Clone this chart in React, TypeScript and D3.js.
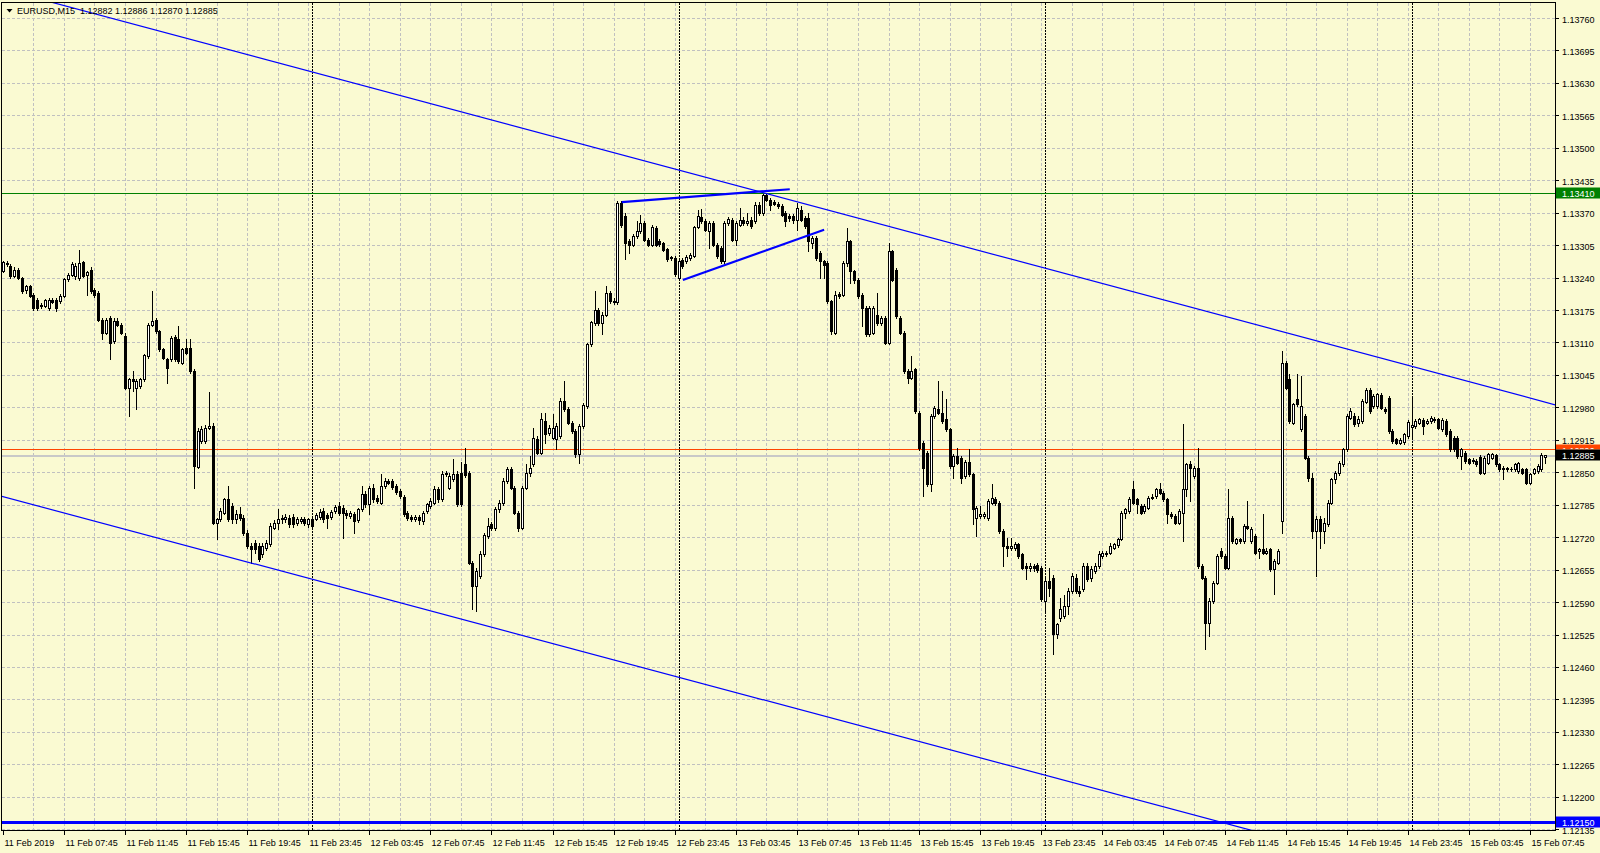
import React, { useEffect } from "react";
import * as d3 from "d3";

const WIDTH = 1600;
const HEIGHT = 853;

const titleText = "EURUSD,M15  1.12882 1.12886 1.12870 1.12885";
const firstBarMinuteOfDay = 3 * 60 + 45; // 11 Feb 2019 03:45
const barMinutes = 15;

// EURUSD M15 candles: [open, high, low, close]
const bars: number[][] = [
  [1.13254,1.13274,1.13252,1.13272],[1.13270,1.13274,1.13265,1.13268],[1.13264,1.13268,1.13240,1.13244],[1.13244,1.13262,1.13242,1.13257],
  [1.13257,1.13260,1.13238,1.13240],[1.13240,1.13242,1.13210,1.13214],[1.13217,1.13227,1.13210,1.13224],[1.13224,1.13227,1.13202,1.13204],
  [1.13207,1.13210,1.13177,1.13180],[1.13197,1.13200,1.13177,1.13180],[1.13184,1.13190,1.13180,1.13187],[1.13184,1.13198,1.13182,1.13196],
  [1.13180,1.13200,1.13177,1.13197],[1.13196,1.13200,1.13190,1.13193],[1.13197,1.13200,1.13175,1.13180],[1.13194,1.13208,1.13190,1.13205],
  [1.13204,1.13240,1.13202,1.13238],[1.13238,1.13250,1.13235,1.13247],[1.13247,1.13272,1.13244,1.13268],[1.13244,1.13270,1.13238,1.13264],
  [1.13240,1.13297,1.13237,1.13270],[1.13272,1.13275,1.13242,1.13244],[1.13247,1.13254,1.13207,1.13252],[1.13257,1.13262,1.13210,1.13214],
  [1.13217,1.13220,1.13203,1.13207],[1.13210,1.13214,1.13154,1.13157],[1.13157,1.13160,1.13117,1.13130],[1.13130,1.13160,1.13127,1.13157],
  [1.13160,1.13165,1.13077,1.13110],[1.13114,1.13160,1.13110,1.13154],[1.13154,1.13160,1.13144,1.13147],[1.13147,1.13150,1.13127,1.13130],
  [1.13124,1.13130,1.13017,1.13020],[1.13020,1.13040,1.12964,1.13037],[1.13037,1.13054,1.13014,1.13034],[1.13020,1.13037,1.12977,1.13034],
  [1.13024,1.13040,1.13020,1.13037],[1.13037,1.13088,1.13034,1.13085],[1.13084,1.13150,1.13080,1.13147],[1.13147,1.13214,1.13144,1.13154],
  [1.13156,1.13160,1.13130,1.13134],[1.13134,1.13137,1.13094,1.13097],[1.13097,1.13100,1.13077,1.13080],[1.13077,1.13080,1.13030,1.13060],
  [1.13077,1.13124,1.13074,1.13120],[1.13122,1.13126,1.13074,1.13077],[1.13117,1.13144,1.13070,1.13074],[1.13070,1.13100,1.13067,1.13097],
  [1.13100,1.13117,1.13087,1.13090],[1.13100,1.13117,1.13050,1.13054],[1.13054,1.13057,1.12820,1.12864],[1.12862,1.12940,1.12860,1.12934],
  [1.12914,1.12944,1.12910,1.12937],[1.12914,1.12945,1.12910,1.12940],[1.12940,1.13012,1.12937,1.12944],[1.12944,1.12950,1.12747,1.12750],
  [1.12750,1.12760,1.12717,1.12757],[1.12757,1.12780,1.12754,1.12774],[1.12770,1.12800,1.12767,1.12797],[1.12798,1.12824,1.12754,1.12757],
  [1.12784,1.12790,1.12750,1.12757],[1.12757,1.12775,1.12750,1.12767],[1.12767,1.12782,1.12755,1.12760],[1.12760,1.12765,1.12725,1.12730],
  [1.12730,1.12735,1.12700,1.12704],[1.12704,1.12710,1.12670,1.12697],[1.12710,1.12715,1.12690,1.12697],[1.12704,1.12710,1.12674,1.12677],
  [1.12687,1.12710,1.12682,1.12704],[1.12700,1.12715,1.12695,1.12710],
  [1.12707,1.12750,1.12704,1.12744],[1.12740,1.12755,1.12737,1.12750],[1.12750,1.12777,1.12737,1.12757],[1.12760,1.12765,1.12750,1.12757],
  [1.12757,1.12768,1.12752,1.12762],[1.12760,1.12765,1.12742,1.12747],[1.12762,1.12768,1.12742,1.12747],[1.12750,1.12762,1.12745,1.12757],
  [1.12754,1.12762,1.12750,1.12758],[1.12757,1.12762,1.12745,1.12750],[1.12747,1.12760,1.12742,1.12757],[1.12758,1.12762,1.12737,1.12744],
  [1.12758,1.12770,1.12755,1.12765],[1.12762,1.12777,1.12758,1.12772],[1.12774,1.12780,1.12752,1.12758],[1.12765,1.12770,1.12740,1.12760],
  [1.12762,1.12775,1.12758,1.12772],[1.12774,1.12786,1.12770,1.12782],[1.12784,1.12792,1.12765,1.12770],[1.12780,1.12785,1.12720,1.12769],
  [1.12770,1.12775,1.12760,1.12765],[1.12764,1.12774,1.12760,1.12769],[1.12767,1.12772,1.12730,1.12754],[1.12756,1.12780,1.12752,1.12777],
  [1.12777,1.12824,1.12774,1.12807],[1.12807,1.12814,1.12782,1.12787],[1.12787,1.12824,1.12767,1.12820],[1.12820,1.12827,1.12792,1.12797],
  [1.12800,1.12805,1.12790,1.12794],[1.12790,1.12847,1.12787,1.12824],[1.12824,1.12840,1.12820,1.12834],[1.12834,1.12837,1.12827,1.12830],
  [1.12834,1.12838,1.12818,1.12822],[1.12824,1.12828,1.12808,1.12812],[1.12814,1.12817,1.12800,1.12804],[1.12802,1.12805,1.12764,1.12767],
  [1.12770,1.12774,1.12755,1.12760],[1.12762,1.12765,1.12754,1.12758],[1.12758,1.12765,1.12754,1.12762],[1.12762,1.12765,1.12747,1.12756],
  [1.12754,1.12774,1.12747,1.12770],[1.12774,1.12790,1.12770,1.12787],[1.12784,1.12800,1.12780,1.12794],[1.12790,1.12824,1.12787,1.12817],
  [1.12817,1.12822,1.12792,1.12797],[1.12797,1.12854,1.12794,1.12847],[1.12847,1.12854,1.12844,1.12850],[1.12820,1.12850,1.12817,1.12844],
  [1.12837,1.12878,1.12834,1.12847],[1.12847,1.12854,1.12784,1.12787],[1.12850,1.12872,1.12784,1.12787],[1.12867,1.12900,1.12842,1.12845],
  [1.12850,1.12854,1.12667,1.12670],[1.12670,1.12674,1.12577,1.12624],[1.12624,1.12660,1.12574,1.12654],[1.12644,1.12694,1.12640,1.12687],
  [1.12687,1.12730,1.12684,1.12725],[1.12724,1.12760,1.12720,1.12744],[1.12747,1.12752,1.12735,1.12740],[1.12740,1.12782,1.12735,1.12777],
  [1.12777,1.12795,1.12772,1.12789],[1.12789,1.12840,1.12786,1.12834],[1.12834,1.12862,1.12830,1.12858],[1.12858,1.12862,1.12817,1.12820],
  [1.12820,1.12824,1.12767,1.12770],[1.12770,1.12774,1.12734,1.12740],[1.12740,1.12824,1.12737,1.12820],[1.12820,1.12867,1.12817,1.12850],
  [1.12850,1.12884,1.12844,1.12860],[1.12867,1.12940,1.12864,1.12920],[1.12917,1.12924,1.12887,1.12890],[1.12890,1.12970,1.12887,1.12957],
  [1.12954,1.12970,1.12910,1.12927],[1.12930,1.12945,1.12925,1.12940],[1.12920,1.12967,1.12917,1.12940],[1.12917,1.12950,1.12897,1.12944],
  [1.12924,1.13000,1.12920,1.12994],[1.12994,1.13034,1.12974,1.12977],[1.12977,1.12982,1.12947,1.12950],[1.12950,1.12954,1.12930,1.12934],
  [1.12934,1.12937,1.12882,1.12887],[1.12887,1.12947,1.12870,1.12944],[1.12944,1.12990,1.12940,1.12985],[1.12984,1.13110,1.12980,1.13107],
  [1.13107,1.13155,1.13104,1.13152],[1.13150,1.13214,1.13147,1.13177],[1.13177,1.13180,1.13147,1.13150],[1.13150,1.13172,1.13127,1.13167],
  [1.13167,1.13224,1.13164,1.13210],[1.13210,1.13215,1.13190,1.13194],[1.13194,1.13200,1.13188,1.13192],[1.13192,1.13394,1.13188,1.13390],
  [1.13390,1.13394,1.13343,1.13347],[1.13365,1.13370,1.13278,1.13310],[1.13314,1.13318,1.13290,1.13307],[1.13307,1.13328,1.13304,1.13324],
  [1.13324,1.13354,1.13320,1.13334],[1.13334,1.13367,1.13330,1.13350],[1.13350,1.13354,1.13314,1.13317],[1.13317,1.13320,1.13304,1.13307],
  [1.13307,1.13346,1.13304,1.13342],[1.13340,1.13344,1.13304,1.13307],[1.13314,1.13318,1.13305,1.13309],[1.13310,1.13313,1.13294,1.13297],
  [1.13298,1.13300,1.13275,1.13278],[1.13282,1.13284,1.13277,1.13280],[1.13280,1.13284,1.13245,1.13249],[1.13240,1.13277,1.13237,1.13274],
  [1.13277,1.13280,1.13260,1.13264],[1.13274,1.13286,1.13270,1.13282],[1.13280,1.13290,1.13277,1.13287],[1.13285,1.13345,1.13282,1.13342],
  [1.13342,1.13377,1.13340,1.13364],[1.13362,1.13378,1.13350,1.13354],[1.13354,1.13358,1.13334,1.13337],[1.13334,1.13354,1.13300,1.13350],
  [1.13350,1.13354,1.13304,1.13307],[1.13307,1.13310,1.13280,1.13284],[1.13300,1.13304,1.13270,1.13274],[1.13274,1.13354,1.13270,1.13350],
  [1.13350,1.13362,1.13346,1.13358],[1.13357,1.13360,1.13314,1.13317],[1.13317,1.13354,1.13307,1.13350],[1.13347,1.13380,1.13344,1.13357],
  [1.13357,1.13362,1.13346,1.13350],[1.13350,1.13370,1.13347,1.13354],[1.13357,1.13362,1.13340,1.13344],[1.13354,1.13392,1.13350,1.13387],
  [1.13387,1.13392,1.13366,1.13370],[1.13370,1.13410,1.13366,1.13407],[1.13407,1.13410,1.13394,1.13397],[1.13397,1.13400,1.13377,1.13387],
  [1.13392,1.13396,1.13386,1.13389],[1.13389,1.13392,1.13380,1.13384],[1.13384,1.13388,1.13364,1.13367],[1.13370,1.13374,1.13344,1.13354],
  [1.13364,1.13368,1.13354,1.13360],[1.13365,1.13368,1.13350,1.13357],[1.13357,1.13390,1.13337,1.13380],[1.13377,1.13384,1.13354,1.13357],
  [1.13360,1.13364,1.13340,1.13344],[1.13360,1.13370,1.13294,1.13314],[1.13310,1.13324,1.13300,1.13320],[1.13320,1.13324,1.13276,1.13280],
  [1.13290,1.13294,1.13240,1.13274],[1.13274,1.13277,1.13240,1.13267],[1.13270,1.13274,1.13190,1.13194],[1.13194,1.13197,1.13127,1.13134],
  [1.13130,1.13214,1.13127,1.13207],[1.13208,1.13212,1.13200,1.13204],[1.13207,1.13274,1.13204,1.13270],[1.13270,1.13340,1.13264,1.13314],
  [1.13314,1.13317,1.13230,1.13254],[1.13254,1.13257,1.13230,1.13237],[1.13237,1.13240,1.13200,1.13204],[1.13207,1.13210,1.13144,1.13180],
  [1.13180,1.13184,1.13124,1.13127],[1.13127,1.13184,1.13124,1.13180],[1.13130,1.13184,1.13127,1.13180],[1.13167,1.13210,1.13147,1.13150],
  [1.13150,1.13164,1.13147,1.13160],[1.13160,1.13164,1.13107,1.13110],[1.13110,1.13310,1.13107,1.13294],[1.13294,1.13297,1.13234,1.13237],
  [1.13257,1.13260,1.13160,1.13164],[1.13160,1.13164,1.13127,1.13130],[1.13130,1.13134,1.13050,1.13054],[1.13054,1.13057,1.13030,1.13040],
  [1.13040,1.13084,1.13037,1.13054],[1.13057,1.13060,1.12970,1.12974],[1.12970,1.12974,1.12896,1.12900],[1.12910,1.12914,1.12804,1.12860],
  [1.12890,1.12894,1.12824,1.12827],[1.12827,1.12967,1.12814,1.12964],[1.12964,1.12984,1.12960,1.12980],[1.12977,1.13034,1.12967,1.12970],
  [1.12970,1.13014,1.12950,1.12954],[1.12957,1.12997,1.12934,1.12937],[1.12937,1.12940,1.12860,1.12864],[1.12864,1.12887,1.12840,1.12884],
  [1.12884,1.12900,1.12867,1.12870],[1.12880,1.12884,1.12830,1.12840],[1.12844,1.12876,1.12840,1.12872],[1.12872,1.12897,1.12844,1.12847],
  [1.12847,1.12850,1.12747,1.12777],[1.12760,1.12784,1.12724,1.12780],[1.12764,1.12784,1.12760,1.12767],[1.12764,1.12772,1.12760,1.12767],
  [1.12759,1.12797,1.12756,1.12794],[1.12790,1.12827,1.12787,1.12800],[1.12798,1.12802,1.12785,1.12789],[1.12790,1.12794,1.12730,1.12734],
  [1.12734,1.12738,1.12664,1.12704],[1.12704,1.12720,1.12684,1.12700],[1.12700,1.12720,1.12696,1.12704],[1.12700,1.12712,1.12696,1.12707],
  [1.12707,1.12710,1.12680,1.12684],[1.12687,1.12690,1.12657,1.12660],[1.12664,1.12670,1.12637,1.12660],[1.12660,1.12670,1.12654,1.12664],
  [1.12664,1.12667,1.12654,1.12660],[1.12665,1.12670,1.12652,1.12656],[1.12660,1.12664,1.12594,1.12597],[1.12594,1.12640,1.12574,1.12634],
  [1.12634,1.12660,1.12604,1.12620],
  [1.12640,1.12645,1.12487,1.12527],[1.12527,1.12550,1.12520,1.12547],[1.12560,1.12600,1.12554,1.12577],[1.12564,1.12605,1.12560,1.12584],
  [1.12584,1.12620,1.12567,1.12614],[1.12614,1.12650,1.12610,1.12644],[1.12640,1.12647,1.12610,1.12614],[1.12614,1.12624,1.12604,1.12610],
  [1.12617,1.12670,1.12614,1.12664],[1.12664,1.12670,1.12634,1.12637],[1.12640,1.12664,1.12634,1.12657],[1.12654,1.12670,1.12650,1.12664],
  [1.12664,1.12693,1.12660,1.12687],[1.12684,1.12694,1.12680,1.12690],[1.12690,1.12694,1.12684,1.12687],[1.12690,1.12710,1.12687,1.12704],
  [1.12700,1.12710,1.12697,1.12707],[1.12705,1.12720,1.12702,1.12717],[1.12718,1.12774,1.12715,1.12770],[1.12770,1.12780,1.12760,1.12777],
  [1.12774,1.12802,1.12770,1.12797],[1.12817,1.12834,1.12787,1.12790],[1.12797,1.12800,1.12770,1.12787],[1.12784,1.12787,1.12767,1.12770],
  [1.12774,1.12787,1.12770,1.12784],[1.12780,1.12804,1.12777,1.12800],[1.12800,1.12807,1.12797,1.12802],[1.12804,1.12820,1.12800,1.12817],
  [1.12817,1.12830,1.12807,1.12810],[1.12810,1.12814,1.12794,1.12797],[1.12797,1.12800,1.12750,1.12767],[1.12767,1.12772,1.12760,1.12764],
  [1.12764,1.12767,1.12747,1.12750],[1.12750,1.12777,1.12747,1.12774],[1.12770,1.12947,1.12714,1.12817],[1.12817,1.12870,1.12804,1.12867],
  [1.12867,1.12874,1.12794,1.12860],[1.12844,1.12864,1.12840,1.12860],[1.12860,1.12900,1.12660,1.12664],[1.12664,1.12667,1.12637,1.12640],
  [1.12640,1.12644,1.12497,1.12550],[1.12550,1.12600,1.12524,1.12594],[1.12594,1.12634,1.12590,1.12630],[1.12630,1.12687,1.12627,1.12684],
  [1.12694,1.12700,1.12680,1.12684],[1.12684,1.12687,1.12657,1.12660],[1.12660,1.12817,1.12657,1.12760],[1.12760,1.12764,1.12710,1.12714],
  [1.12710,1.12720,1.12707,1.12717],[1.12717,1.12720,1.12710,1.12714],[1.12714,1.12747,1.12710,1.12744],[1.12744,1.12794,1.12737,1.12740],
  [1.12714,1.12742,1.12710,1.12738],[1.12724,1.12727,1.12687,1.12690],[1.12694,1.12700,1.12680,1.12697],[1.12697,1.12767,1.12687,1.12690],
  [1.12690,1.12700,1.12687,1.12694],[1.12697,1.12700,1.12654,1.12657],[1.12657,1.12677,1.12607,1.12674],[1.12670,1.12697,1.12667,1.12694],
  [1.12754,1.13094,1.12730,1.13070],[1.13070,1.13074,1.13017,1.13020],[1.13037,1.13047,1.12950,1.12954],[1.12950,1.12990,1.12947,1.12987],
  [1.12997,1.13047,1.12984,1.12987],[1.12937,1.13044,1.12934,1.12984],[1.12964,1.12967,1.12877,1.12880],[1.12880,1.12884,1.12834,1.12840],
  [1.12840,1.12850,1.12720,1.12734],[1.12734,1.12764,1.12643,1.12757],[1.12757,1.12764,1.12700,1.12734],[1.12734,1.12760,1.12710,1.12750],
  [1.12747,1.12795,1.12744,1.12790],[1.12790,1.12840,1.12787,1.12837],[1.12837,1.12854,1.12830,1.12850],[1.12850,1.12874,1.12845,1.12870],
  [1.12867,1.12900,1.12864,1.12897],[1.12897,1.12967,1.12894,1.12964],[1.12960,1.12980,1.12957,1.12974],[1.12964,1.12970,1.12944,1.12947],
  [1.12950,1.12964,1.12944,1.12957],[1.12954,1.12997,1.12950,1.12994],[1.12992,1.13020,1.12990,1.13016],[1.13016,1.13020,1.12970,1.12974],
  [1.12984,1.13008,1.12980,1.13004],[1.12984,1.13010,1.12980,1.13007],[1.13005,1.13010,1.12977,1.12980],[1.12978,1.12982,1.12970,1.12974],
  [1.13000,1.13003,1.12930,1.12934],[1.12934,1.12937,1.12910,1.12914],[1.12917,1.12920,1.12907,1.12910],[1.12910,1.12920,1.12907,1.12916],
  [1.12912,1.12930,1.12908,1.12927],[1.12924,1.12955,1.12920,1.12952],[1.12942,1.13000,1.12917,1.12945],[1.12944,1.12957,1.12940,1.12954],
  [1.12950,1.12960,1.12947,1.12957],[1.12956,1.12960,1.12927,1.12944],[1.12950,1.12957,1.12947,1.12954],[1.12954,1.12964,1.12950,1.12960],
  [1.12958,1.12962,1.12952,1.12956],[1.12957,1.12960,1.12937,1.12940],[1.12937,1.12960,1.12934,1.12956],[1.12954,1.12957,1.12924,1.12927],
  [1.12934,1.12937,1.12894,1.12897],[1.12920,1.12924,1.12894,1.12897],[1.12920,1.12924,1.12880,1.12884],[1.12884,1.12900,1.12857,1.12897],
  [1.12890,1.12894,1.12870,1.12874],[1.12877,1.12880,1.12867,1.12870],[1.12874,1.12880,1.12870,1.12876],[1.12874,1.12877,1.12864,1.12867],
  [1.12882,1.12885,1.12847,1.12850],[1.12850,1.12884,1.12847,1.12880],[1.12870,1.12890,1.12867,1.12887],[1.12880,1.12890,1.12877,1.12887],
  [1.12885,1.12888,1.12864,1.12867],[1.12867,1.12870,1.12854,1.12857],[1.12860,1.12864,1.12837,1.12857],[1.12859,1.12862,1.12854,1.12857],
  [1.12858,1.12862,1.12854,1.12857],[1.12857,1.12870,1.12854,1.12867],[1.12854,1.12872,1.12850,1.12869],[1.12857,1.12860,1.12847,1.12850],
  [1.12857,1.12860,1.12827,1.12830],[1.12830,1.12850,1.12827,1.12847],[1.12850,1.12860,1.12847,1.12857],[1.12854,1.12867,1.12850,1.12864],
  [1.12857,1.12890,1.12854,1.12885],[1.12882,1.12886,1.12870,1.12885],
];

const priceTicks = [
  1.1376, 1.13695, 1.1363, 1.13565, 1.135, 1.13435, 1.1337, 1.13305, 1.1324,
  1.13175, 1.1311, 1.13045, 1.1298, 1.12915, 1.1285, 1.12785, 1.1272, 1.12655,
  1.1259, 1.12525, 1.1246, 1.12395, 1.1233, 1.12265, 1.122, 1.12135,
];

const timeLabels = [
  "11 Feb 2019", "11 Feb 07:45", "11 Feb 11:45", "11 Feb 15:45", "11 Feb 19:45", "11 Feb 23:45",
  "12 Feb 03:45", "12 Feb 07:45", "12 Feb 11:45", "12 Feb 15:45", "12 Feb 19:45", "12 Feb 23:45",
  "13 Feb 03:45", "13 Feb 07:45", "13 Feb 11:45", "13 Feb 15:45", "13 Feb 19:45", "13 Feb 23:45",
  "14 Feb 03:45", "14 Feb 07:45", "14 Feb 11:45", "14 Feb 15:45", "14 Feb 19:45", "14 Feb 23:45",
  "15 Feb 03:45", "15 Feb 07:45",
];
const barsPerLabel = 16;
const barsPerGrid = 8;

// objects: [bar index, price]
const upperChannel = [[10, 1.13798], [199, 1.13411]];
const lowerChannel = [[0, 1.12802], [319, 1.1215]];
const triangleUpper = [[162, 1.13392], [206, 1.13418]];
const triangleLower = [[178, 1.13236], [215, 1.13337]];
const resistanceLevel = 1.1341;
const supportLevel = 1.1215;
const bidPrice = 1.12885;
const askPrice = 1.12896;

const BG = "#FAFAD2";
const GRID = "#c0c0c0";
const FONT = "Tahoma, 'Liberation Sans', Arial, sans-serif";

const PL = 1.5, PR = 1555.5, PT = 2.5, PB = 830.5;

export default function App() {
  useEffect(() => {
    document.body.style.margin = "0";
    document.body.style.overflow = "hidden";
  }, []);

  const x = d3.scaleLinear().domain([0, bars.length - 1]).range([3.3, 1545.7]);
  const y = d3.scaleLinear().domain([1.12135, 1.1376]).range([829.7, 18.5]);
  const snap = (v: number) => Math.floor(v) + 0.5;

  const line = d3.line<number[]>().x((d) => x(d[0])).y((d) => y(d[1]));
  const ray = (pts: number[][], from: number, to: number) => {
    const [[i1, p1], [i2, p2]] = pts;
    const slope = (p2 - p1) / (i2 - i1);
    return line([[from, p1 + (from - i1) * slope], [to, p1 + (to - i1) * slope]]) || "";
  };

  const gridBars: number[] = [];
  for (let i = barsPerGrid; i < bars.length; i += barsPerGrid) gridBars.push(i);
  const dayStarts: number[] = [];
  for (let i = 0; i < bars.length; i++) {
    if ((firstBarMinuteOfDay + i * barMinutes) % 1440 === 0) dayStarts.push(i);
  }

  const bidY = Math.round(y(bidPrice));
  const askY = Math.round(y(askPrice));

  const priceLabel = (p: number, fill: string, textFill: string, key: string, clip?: string) => {
    const yy = Math.round(y(p));
    return (
      <g key={key} clipPath={clip}>
        <rect x={1556} y={yy - 5.5} width={44} height={11} fill={fill} />
        <text x={1562} y={yy + 3.5} fill={textFill} fontSize={9} fontFamily={FONT}>
          {p.toFixed(5)}
        </text>
      </g>
    );
  };

  return (
    <svg
      width={WIDTH}
      height={HEIGHT}
      style={{ position: "absolute", left: 0, top: 0, display: "block" }}
    >
      <defs>
        <clipPath id="plotClip">
          <rect x={PL} y={PT} width={PR - PL} height={PB - PT} />
        </clipPath>
        <clipPath id="askClip">
          <rect x={1556} y={askY - 6} width={44} height={bidY - 5.5 - (askY - 6)} />
        </clipPath>
      </defs>
      <rect x={0} y={0} width={WIDTH} height={HEIGHT} fill={BG} />

      {/* grid */}
      <g shapeRendering="crispEdges" stroke={GRID} strokeDasharray="3,2">
        {priceTicks.map((p) => (
          <line key={"h" + p} x1={PL} x2={PR} y1={snap(y(p))} y2={snap(y(p))} />
        ))}
        {gridBars.map((i) => (
          <line key={"v" + i} x1={snap(x(i))} x2={snap(x(i))} y1={PT} y2={PB} />
        ))}
      </g>
      {/* day separators */}
      <g shapeRendering="crispEdges" stroke="#000" strokeDasharray="2,1">
        {dayStarts.map((i) => (
          <line key={"d" + i} x1={snap(x(i))} x2={snap(x(i))} y1={PT} y2={PB} />
        ))}
      </g>

      {/* bid / ask lines */}
      <g shapeRendering="crispEdges">
        <line x1={PL} x2={PR} y1={snap(y(bidPrice))} y2={snap(y(bidPrice))} stroke="#c8c8c8" strokeWidth={2} />
        <line x1={PL} x2={PR} y1={snap(y(askPrice))} y2={snap(y(askPrice))} stroke="#FF4500" strokeWidth={1} />
      </g>

      {/* candles */}
      <g shapeRendering="crispEdges">
        {bars.map((b, i) => {
          const [o, h, l, c] = b;
          const cx = snap(x(i));
          const yo = Math.round(y(o));
          const yc = Math.round(y(c));
          const top = Math.min(yo, yc);
          const bot = Math.max(yo, yc);
          const bull = c >= o;
          return (
            <g key={i}>
              <line x1={cx} x2={cx} y1={Math.round(y(h))} y2={Math.round(y(l)) + 1} stroke="#000" />
              {bot - top >= 1 ? (
                <rect x={cx - 1} y={top + 0.5} width={2} height={bot - top} fill={bull ? "#fff" : "#000"} stroke="#000" />
              ) : (
                <line x1={cx - 1.5} x2={cx + 1.5} y1={top + 0.5} y2={top + 0.5} stroke="#000" />
              )}
            </g>
          );
        })}
      </g>

      {/* objects */}
      <g clipPath="url(#plotClip)" fill="none">
        <line x1={PL} x2={PR} y1={snap(y(resistanceLevel))} y2={snap(y(resistanceLevel))} stroke="#008000" shapeRendering="crispEdges" />
        <line x1={PL} x2={PR} y1={Math.round(y(supportLevel))} y2={Math.round(y(supportLevel))} stroke="#0000FF" strokeWidth={3} shapeRendering="crispEdges" />
        <path d={ray(upperChannel, -20, 430)} stroke="#0000FF" strokeWidth={1.2} />
        <path d={ray(lowerChannel, -20, 430)} stroke="#0000FF" strokeWidth={1.2} />
        <path d={line(triangleUpper) || ""} stroke="#0000FF" strokeWidth={2.2} />
        <path d={line(triangleLower) || ""} stroke="#0000FF" strokeWidth={2.2} />
      </g>

      {/* frame */}
      <rect x={PL} y={PT} width={PR - PL} height={PB - PT} fill="none" stroke="#000" shapeRendering="crispEdges" />

      {/* price axis */}
      <g fontSize={9} fontFamily={FONT} fill="#000">
        {priceTicks.map((p) => (
          <g key={"pt" + p}>
            <line x1={PR} x2={1559} y1={snap(y(p))} y2={snap(y(p))} stroke="#000" shapeRendering="crispEdges" />
            <text x={1562} y={Math.round(y(p)) + 3.5}>{p.toFixed(5)}</text>
          </g>
        ))}
      </g>
      {priceLabel(resistanceLevel, "#008000", "#fff", "res")}
      {priceLabel(supportLevel, "#0000FF", "#fff", "sup")}
      {priceLabel(askPrice, "#FF4500", "#fff", "ask", "url(#askClip)")}
      {priceLabel(bidPrice, "#000", "#fff", "bid")}

      {/* time axis */}
      <g fontSize={9} fontFamily={FONT} fill="#000">
        {timeLabels.map((t, k) => {
          const xx = snap(x(k * barsPerLabel));
          return (
            <g key={"tl" + k}>
              <line x1={xx} x2={xx} y1={PB} y2={PB + 4} stroke="#000" shapeRendering="crispEdges" />
              <text x={xx + 1} y={846}>{t}</text>
            </g>
          );
        })}
      </g>

      {/* title */}
      <path d="M6.5,9 L12.5,9 L9.5,12.5 Z" fill="#000" />
      <text x={17} y={14} fontSize={9} fontFamily={FONT} fill="#000" style={{ whiteSpace: "pre" }}>
        {titleText}
      </text>
    </svg>
  );
}
